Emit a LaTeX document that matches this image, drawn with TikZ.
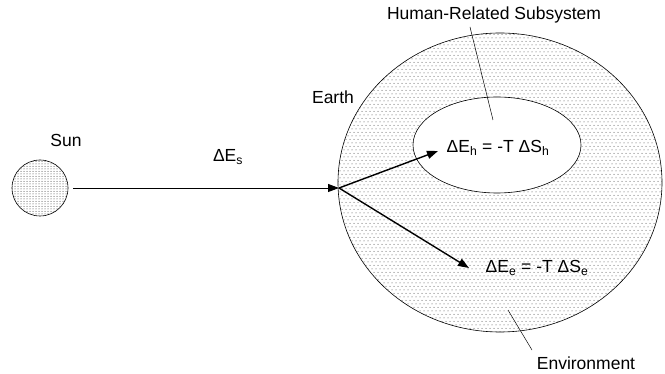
\documentclass[tikz,border=0pt]{standalone}
\usepackage{fontspec}
\setmainfont{Liberation Sans}
\usetikzlibrary{shapes.geometric,arrows.meta,patterns}
\pgfdeclarepatternformonly{earthdots}{\pgfqpoint{-1pt}{-1pt}}{\pgfqpoint{5pt}{8pt}}{\pgfqpoint{4pt}{7pt}}{%
  \pgfpathcircle{\pgfqpoint{0pt}{0pt}}{0.5pt}%
  \pgfpathcircle{\pgfqpoint{2pt}{3.5pt}}{0.5pt}%
  \pgfusepath{fill}}
\pgfdeclarepatternformonly{sundots}{\pgfqpoint{-1pt}{-1pt}}{\pgfqpoint{4pt}{4pt}}{\pgfqpoint{3pt}{2.5pt}}{%
  \pgfpathcircle{\pgfqpoint{0pt}{0pt}}{0.5pt}%
  \pgfusepath{fill}}
\tikzset{
  lbl/.style={font=\fontsize{17.5}{20}\selectfont, inner sep=0pt},
  blob/.style={ellipse, draw, line width=0.6pt, inner sep=0pt},
  flow/.style={-{Triangle[length=11pt,width=8pt]}},
  leader/.style={line width=0.5pt}
}
\begin{document}
\begin{tikzpicture}[x=1pt,y=-1pt]
\useasboundingbox (0,0) rectangle (665,374);
% bodies
\node[blob, pattern=sundots, pattern color=black!80, minimum width=56pt, minimum height=56pt] (sun) at (40,188) {};
\node[blob, pattern=earthdots, pattern color=black!75, minimum width=324pt, minimum height=299pt] (earth) at (500,182.5) {};
\node[blob, fill=white, minimum width=168pt, minimum height=96pt] (human) at (497,145) {};
% labels
\node[lbl] (sunlbl) at (66,140) {Sun};
\node[lbl] (earthlbl) at (333,97) {Earth};
\node[lbl] (hrs) at (494,15) {Human-Related Subsystem};
\node[lbl] (env) at (586,363) {Environment};
\node[lbl] (des) at (228,157) {ΔE\textsubscript{s}};
\node[lbl] (deh) at (498,148) {ΔE\textsubscript{h} = -T ΔS\textsubscript{h}};
\node[lbl] (dee) at (537,268) {ΔE\textsubscript{e} = -T ΔS\textsubscript{e}};
% points
\coordinate (src) at (73,188);
\coordinate (hub) at (339,188);
\coordinate (tiph) at (438,151);
\coordinate (tipe) at (469,268);
\coordinate (hrsA) at (470,27);
\coordinate (hrsB) at (493,120);
\coordinate (envA) at (532,350);
\coordinate (envB) at (508,310);
% connectors
\draw[flow, line width=0.9pt] (src) -- (hub);
\draw[flow, line width=1.4pt] (hub) -- (tiph);
\draw[flow, line width=1.4pt] (hub) -- (tipe);
\draw[leader] (hrsA) -- (hrsB);
\draw[leader] (envA) -- (envB);
\end{tikzpicture}
\end{document}
